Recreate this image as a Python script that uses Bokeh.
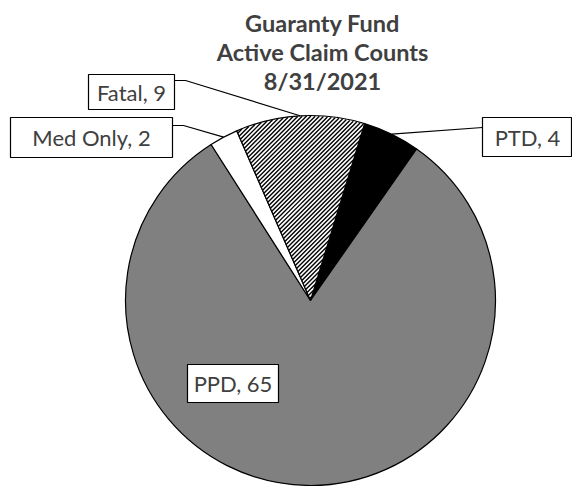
import math
import numpy as np
from bokeh.plotting import figure
from bokeh.models import ColumnDataSource, Range1d
from bokeh.core.properties import value
from bokeh.embed import file_html
from bokeh.resources import INLINE

# ---- data ----
categories = ["PTD", "PPD", "Med Only", "Fatal"]
counts = [4, 65, 2, 9]
colors = ["#000000", "#808080", "#ffffff", "#ffffff"]
hatched = [False, False, False, True]
title_lines = ["Guaranty Fund", "Active Claim Counts", "8/31/2021"]

# ---- layout (image pixel coords) ----
W, H = 572, 487
def Y(iy):
    return H - iy

cx, cy, R = 310, 300, 185
start_deg = 17.0  # clockwise from 12 o'clock, where first slice starts

total = sum(counts)
starts, ends, mids, spans = [], [], [], []
acc = start_deg
for c in counts:
    a0 = acc
    a1 = acc + 360.0 * c / total
    starts.append(math.radians(90 - a0))
    ends.append(math.radians(90 - a1))
    mids.append((a0 + a1) / 2)
    spans.append((a0, a1))
    acc = a1

p = figure(width=W, height=H, output_backend="svg", toolbar_location=None,
           x_range=Range1d(0, W), y_range=Range1d(0, H),
           min_border=0, outline_line_color=None)
p.axis.visible = False
p.grid.visible = False
p.background_fill_color = "white"
p.border_fill_color = "white"

src = ColumnDataSource(dict(x=[cx] * 4, y=[Y(cy)] * 4, start=starts, end=ends,
                            color=colors, cat=categories))
p.wedge(x="x", y="y", radius=R, start_angle="start", end_angle="end",
        direction="clock", source=src, fill_color="color",
        line_color="black", line_width=1.2)

# ---- manual "/" hatching of hatched slices ----
def cross(a, b):
    return a[0] * b[1] - a[1] * b[0]

u = np.array([1.0, 1.0]) / math.sqrt(2)
n = np.array([1.0, -1.0]) / math.sqrt(2)
gap = 3.05
for (a0, a1), h in zip(spans, hatched):
    if not h:
        continue
    d0 = np.array([math.sin(math.radians(a0)), math.cos(math.radians(a0))])
    d1 = np.array([math.sin(math.radians(a1)), math.cos(math.radians(a1))])
    xs, ys = [], []
    for k in np.arange(-R, R, gap):
        if abs(k) >= R:
            continue
        tm = math.sqrt(R * R - k * k) - 0.8
        lo, hi = -tm, tm
        # clockwise from d0: cross(d0, v) <= 0 ; counter-clockwise from d1: cross(d1, v) >= 0
        for d, sgn in ((d0, -1), (d1, 1)):
            a = sgn * k * cross(d, n)
            b = sgn * cross(d, u)
            # need a + b t >= 0
            if abs(b) < 1e-12:
                if a < 0:
                    lo, hi = 1, 0
                continue
            t = -a / b
            if b > 0:
                lo = max(lo, t)
            else:
                hi = min(hi, t)
        if hi - lo > 0.5:
            p0 = n * k + u * lo
            p1 = n * k + u * hi
            xs.append([cx + p0[0], cx + p1[0]])
            ys.append([Y(cy) + p0[1], Y(cy) + p1[1]])
    p.multi_line(xs, ys, line_color="black", line_width=1.4)

# ---- labels ----
font = value("Lato")
label_boxes = {
    "Fatal":    dict(l=88, r=174, t=74, b=109, tx=131, lead=[(174, 80), (185, 80)]),
    "Med Only": dict(l=10, r=172, t=117, b=157, tx=91, lead=[(172, 125), (183, 125)]),
    "PTD":      dict(l=482, r=571, t=117, b=156, tx=527, lead=[(482, 127)]),
    "PPD":      dict(l=187, r=278, t=364, b=402, tx=232.5, lead=None),
}
for cat, cnt, mid in zip(categories, counts, mids):
    bx = label_boxes[cat]
    if bx["lead"]:
        ex = cx + R * math.sin(math.radians(mid))
        ey = cy - R * math.cos(math.radians(mid))
        lx = [pt[0] for pt in bx["lead"]] + [ex]
        ly = [Y(pt[1]) for pt in bx["lead"]] + [Y(ey)]
        p.line(lx, ly, line_color="black", line_width=1.2)
    p.quad(left=[bx["l"]], right=[bx["r"]], top=[Y(bx["t"])], bottom=[Y(bx["b"])],
           fill_color="white", line_color="black", line_width=1.2)
    ymid = (bx["t"] + bx["b"]) / 2
    p.text(x=[bx["tx"]], y=[Y(ymid)], text=[f"{cat}, {cnt}"],
           text_font=font, text_font_size="22px", text_color="#404040",
           text_align="center", text_baseline="middle")

# ---- title ----
title_mids = [22, 51, 80]
for line, m in zip(title_lines, title_mids):
    p.text(x=[322], y=[Y(m)], text=[line], text_font=font,
           text_font_size="23.5px", text_font_style="bold", text_color="#404040",
           text_align="center", text_baseline="middle")

open("out.html", "w").write(file_html(p, INLINE))
